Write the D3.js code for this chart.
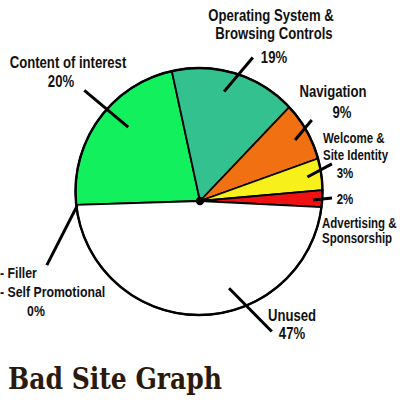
<!DOCTYPE html>
<html>
<head>
<meta charset="utf-8">
<script src="https://cdn.jsdelivr.net/npm/d3@7"></script>
<style>
  body { margin: 0; background: #fff; }
  .lbl { font-family: "Liberation Sans", Arial, sans-serif; font-weight: bold; fill: #111; }
  .title { font-family: "DejaVu Serif", "Liberation Serif", serif; font-weight: bold; fill: #2b1a0c; }
</style>
</head>
<body>
<svg id="chart" width="400" height="400"></svg>
<script>
// categories, clockwise from the left edge of the pie
var categories = ["Content of interest", "Operating System & Browsing Controls", "Navigation",
                  "Welcome & Site Identity", "Advertising & Sponsorship", "Unused", "Filler / Self Promotional"];
var nameLines = [["Content of interest"], ["Operating System &", "Browsing Controls"], ["Navigation"],
                 ["Welcome &", "Site Identity"], ["Advertising &", "Sponsorship"], ["Unused"],
                 ["- Filler", "- Self Promotional"]];
// the percentages printed on the chart
var pctLabels = [20, 19, 9, 3, 2, 47, 0];
// the share each wedge actually takes up in the drawing (it does not match the labels)
var drawnShare = [22.1, 15.5, 7.4, 4.1, 2.2, 48.7, 0];
var colors = ["#12f05e", "#33c190", "#f07012", "#f8f01a", "#f01212", "#ffffff", "#ffffff"];

var PCT = function(v) { return v + "%"; };
var NARROW = 0.82;   // the labels use a condensed face

// label layout: [x, baseline, anchor] for each name line, then the percent
var labelPos = [
  { size: 16, names: [[68, 68, "middle"]], pct: [61, 87] },
  { size: 16, names: [[271, 21, "middle"], [274, 39, "middle"]], pct: [274, 63] },
  { size: 16, names: [[333, 97, "middle"]], pct: [342, 118] },
  { size: 14, names: [[323, 143, "start"], [323, 160, "start"]], pct: [345, 178] },
  { size: 14, names: [[322, 228, "start"], [322, 243, "start"]], pct: [345, 204] },
  { size: 16, names: [[292, 321, "middle"]], pct: [292, 339] },
  { size: 15, names: [[0, 278, "start"], [0, 297, "start"]], pct: [36, 316] }
];
// leader lines in polar form from the pie apex: [deg0, r0, deg1, r1]
var leaders = [
  [315.8, 103, 313.7, 160],
  [12.4, 112, 20.2, 153],
  [57.3, 113, 54.1, 138],
  [77.4, 110, 74.3, 137],
  [89.5, 113, 88.7, 132],
  [161.6, 92, 151.2, 149],
  [267.7, 123, 247.3, 166]
];

var svg = d3.select("#chart");
svg.append("rect").attr("width", 400).attr("height", 400).attr("fill", "#fff");

// the wedges meet at a point a little below the centre of the circle
var apex = [200, 201];
var ring = { cx: 199, cy: 191.5, r: 123.5 };
var rad = Math.PI / 180;

var pie = d3.pie()
  .sort(null)
  .startAngle(-91.8 * rad)
  .endAngle(268.2 * rad)
  .value(function(d) { return d; });

function hit(a) {
  var ux = Math.sin(a), uy = -Math.cos(a);
  var dx = apex[0] - ring.cx, dy = apex[1] - ring.cy;
  var b = dx * ux + dy * uy;
  var c = dx * dx + dy * dy - ring.r * ring.r;
  var t = -b + Math.sqrt(b * b - c);
  return [apex[0] + t * ux, apex[1] + t * uy];
}

function polar(deg, r) {
  var a = deg * rad;
  return [apex[0] + r * Math.sin(a), apex[1] - r * Math.cos(a)];
}

function wedge(d) {
  var p = d3.path();
  var q0 = hit(d.startAngle), q1 = hit(d.endAngle);
  var f0 = Math.atan2(q0[1] - ring.cy, q0[0] - ring.cx);
  var f1 = Math.atan2(q1[1] - ring.cy, q1[0] - ring.cx);
  while (f1 < f0) f1 += 2 * Math.PI;
  p.moveTo(apex[0], apex[1]);
  p.lineTo(q0[0], q0[1]);
  p.arc(ring.cx, ring.cy, ring.r, f0, f1, false);
  p.closePath();
  return p.toString();
}

var slices = pie(drawnShare);

svg.append("g").selectAll("path")
  .data(slices.filter(function(d) { return d.value > 0; }))
  .enter().append("path")
    .attr("d", wedge)
    .attr("fill", function(d) { return colors[d.index]; })
    .attr("stroke", "#000")
    .attr("stroke-width", 1.8)
    .attr("stroke-linejoin", "round");

svg.append("circle")
  .attr("cx", ring.cx).attr("cy", ring.cy).attr("r", ring.r)
  .attr("fill", "none").attr("stroke", "#000").attr("stroke-width", 2.4);

svg.append("circle")
  .attr("cx", apex[0]).attr("cy", apex[1]).attr("r", 4.2)
  .attr("fill", "#000");

// leader lines
svg.append("g").selectAll("line")
  .data(leaders)
  .enter().append("line")
    .attr("x1", function(d) { return polar(d[0], d[1])[0]; })
    .attr("y1", function(d) { return polar(d[0], d[1])[1]; })
    .attr("x2", function(d) { return polar(d[2], d[3])[0]; })
    .attr("y2", function(d) { return polar(d[2], d[3])[1]; })
    .attr("stroke", "#000")
    .attr("stroke-width", 3);

// labels, squeezed horizontally to look like a narrow face
function label(g, x, y, anchor, size, t) {
  g.append("text")
    .attr("class", "lbl")
    .attr("transform", "translate(" + x + "," + y + ") scale(" + NARROW + ",1)")
    .attr("text-anchor", anchor)
    .style("font-size", size + "px")
    .text(t);
}

var lg = svg.append("g");
categories.forEach(function(c, i) {
  var pos = labelPos[i];
  nameLines[i].forEach(function(t, j) {
    label(lg, pos.names[j][0], pos.names[j][1], pos.names[j][2], pos.size, t);
  });
  label(lg, pos.pct[0], pos.pct[1], "middle", pos.size, PCT(pctLabels[i]));
});

svg.append("text")
  .attr("class", "title")
  .attr("x", 8)
  .attr("y", 389)
  .attr("textLength", 214)
  .attr("lengthAdjust", "spacingAndGlyphs")
  .style("font-size", "30px")
  .text("Bad Site Graph");
</script>
</body>
</html>
